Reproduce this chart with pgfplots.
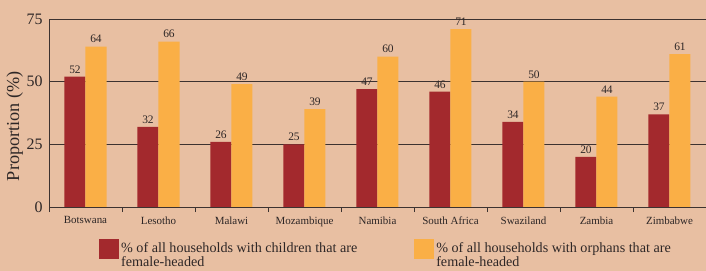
\documentclass[border=0pt]{standalone}
\usepackage{pgfplots}
\pgfplotsset{compat=1.18}
\usepackage{fontspec}
\setmainfont{Liberation Serif}
\definecolor{bg}{RGB}{232,191,162}
\definecolor{cred}{RGB}{163,41,45}
\definecolor{corange}{RGB}{250,175,70}
\definecolor{txt}{RGB}{45,38,38}
\definecolor{ln}{RGB}{60,50,48}
\begin{document}
\begin{tikzpicture}
\fill[bg] (0,0) rectangle (706bp,271bp);
\useasboundingbox (0,0) rectangle (706bp,271bp);
\begin{axis}[
  at={(49bp,64bp)}, anchor=south west,
  scale only axis, width=657bp, height=188bp,
  xmin=-0.5, xmax=8.5, ymin=0, ymax=75,
  ybar=0pt, bar width=21bp,
  axis x line=bottom, axis y line=left,
  axis line style={-, ln, line width=0.8pt},
  ytick={0,25,50,75},
  ymajorgrids, major grid style={ln, line width=0.8pt},
  xtick={-0.5,0.5,...,8.5},
  x tick label as interval,
  xticklabels={Botswana,Lesotho,Malawi,Mozambique,Namibia,South Africa,Swaziland,Zambia,Zimbabwe},
  xticklabel style={font=\fontsize{11}{11}\selectfont, text=txt, yshift=-1bp},
  yticklabel style={font=\fontsize{16}{16}\selectfont, text=txt, xshift=2bp},
  /pgf/number format/assume math mode=true,
  tick align=outside, major tick length=5bp,
  xtick style={ln, line width=0.8pt},
  ytick style={draw=none},
  ylabel={Proportion (\%)},
  every axis y label/.style={at={(axis description cs:-0.052,0.43)}, rotate=90, anchor=center},
  ylabel style={font=\fontsize{18.3}{18.3}\selectfont, text=txt},
  nodes near coords,
  every node near coord/.append style={font=\fontsize{11.5}{11.5}\selectfont, text=txt},
  legend columns=2,
  legend cell align=left,
  legend image code/.code={\fill[#1] (0bp,-4bp) rectangle (20bp,16bp);},
  legend style={draw=none, fill=none, at={(0.0715,-0.16)}, anchor=north west,
    font=\fontsize{14.2}{13.5}\selectfont, text=txt,
    nodes={align=left, inner sep=2bp},
    /tikz/every even column/.append style={column sep=55bp}},
]
\addplot[fill=cred, draw=none] coordinates {(0,52) (1,32) (2,26) (3,25) (4,47) (5,46) (6,34) (7,20) (8,37)};
\addlegendentry{\% of all households with children that are\\female-headed}
\addplot[fill=corange, draw=none] coordinates {(0,64) (1,66) (2,49) (3,39) (4,60) (5,71) (6,50) (7,44) (8,61)};
\addlegendentry{\% of all households with orphans that are\\female-headed}
\end{axis}
\end{tikzpicture}
\end{document}
